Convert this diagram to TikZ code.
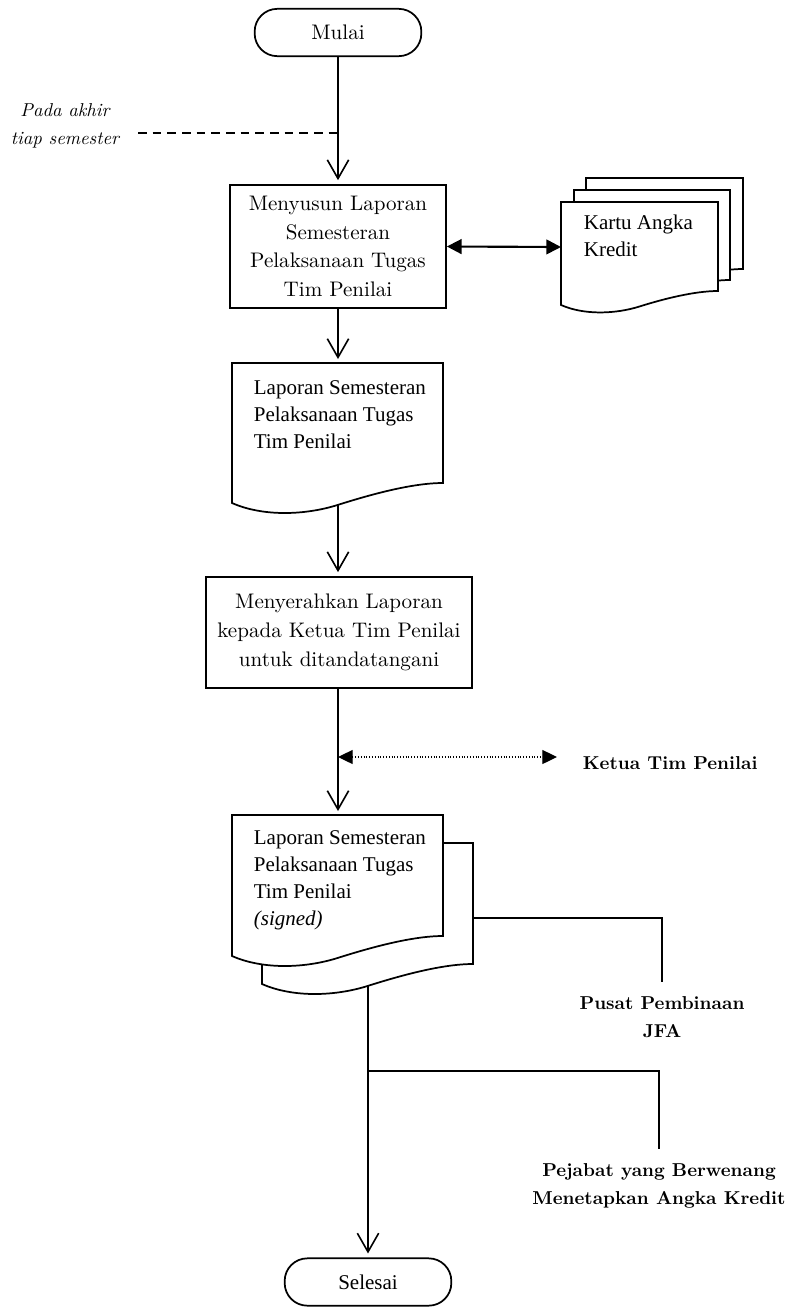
\documentclass[tikz,border=0pt]{standalone}
\usepackage{fontspec}
\newfontfamily\tms{Liberation Serif}
\newfontfamily\lmten{lmroman10-regular.otf}[BoldFont=lmroman10-bold.otf,ItalicFont=lmroman10-italic.otf]
\usetikzlibrary{arrows.meta}
\newcommand\fpal{\lmten\fontsize{15.8}{21.5}\selectfont}
\newcommand\ftms{\tms\fontsize{15.75}{20.2}\selectfont}
\newcommand\fbld{\lmten\bfseries\fontsize{14}{21}\selectfont}
\newcommand\fita{\lmten\itshape\fontsize{14}{21}\selectfont}
% document shape: L, T, R, yL (left bottom), yR (right bottom)
\newcommand{\docshape}[5]{%
  \pgfmathsetmacro\dW{#3-#1}%
  \pgfmathsetmacro\dA{\dW/211}%
  \filldraw[docline]
   (#1,#2) -- (#3,#2) -- (#3,#5)
   .. controls ({#1+0.85*\dW},#5) and ({#1+0.65*\dW},{#4-8*\dA}) .. ({#1+0.5*\dW},{#4+2*\dA})
   .. controls ({#1+0.35*\dW},{#4+12*\dA}) and ({#1+0.15*\dW},{#4+14*\dA}) .. (#1,#4) -- cycle;
}
\begin{document}
\begin{tikzpicture}[x=0.75pt,y=-0.75pt,line width=1.3pt,
  docline/.style={fill=white,draw=black,line width=1.3pt,line join=miter},
  procbox/.style={draw,line width=1.3pt,inner sep=0pt,align=center,font=\fpal},
  termbox/.style={draw,line width=1.3pt,rounded corners=17pt,inner sep=0pt,minimum width=125pt,minimum height=35.5pt},
  txt/.style={inner sep=0pt,align=left,font=\ftms},
  lbl/.style={inner sep=0pt,align=center,font=\fbld},
  flow/.style={-{Straight Barb[length=14pt,width=16pt,line width=1.2pt]},line width=1.4pt,shorten >=3pt},
  dbl/.style={{Triangle[length=11pt,width=11pt]}-{Triangle[length=11pt,width=11pt]},line width=1.6pt},
  dotarrow/.style={{Triangle[length=11pt,width=10.5pt]}-{Triangle[length=11pt,width=10.5pt]},line width=0.9pt,dash pattern=on 0.8pt off 1.3pt},
  plain/.style={line width=1.3pt},
  dashline/.style={line width=1.1pt,dash pattern=on 6.5pt off 4.5pt}]
\useasboundingbox (0,0) rectangle (793,1307);

% ---- Kartu Angka Kredit (multi document)
\docshape{586}{178}{743}{283}{269}
\docshape{574}{190}{730}{294}{280}
\docshape{561}{202}{718}{305}{291}
\node[txt,anchor=west] (kartu) at (583,236) {Kartu Angka\\Kredit};
\coordinate (kartuW) at (561,247);

% ---- document 2
\docshape{232}{363}{443}{503}{483}
\node[txt,anchor=west] (doc2) at (253,415) {Laporan Semesteran\\Pelaksanaan Tugas\\Tim Penilai};
\coordinate (d2n) at (338,363);
\coordinate (d2s) at (338,505);

% ---- document 3 (two pages)
\docshape{262}{843}{473}{984}{964}
\docshape{232}{815}{443}{956}{936}
\node[txt,anchor=west] (doc3) at (253,880) {Laporan Semesteran\\Pelaksanaan Tugas\\Tim Penilai\\{\itshape (signed)}};
\coordinate (d3n) at (338,815);
\coordinate (d3s) at (368,986);
\coordinate (d3e) at (473,918);

% ---- process and terminal nodes
\node[termbox,font=\fpal] (mulai) at (338,32.5) {Mulai};
\node[procbox,minimum width=162pt,minimum height=92.25pt] (box1) at (338,246.5)
  {Menyusun Laporan\\Semesteran\\Pelaksanaan Tugas\\Tim Penilai};
\node[procbox,minimum width=199.5pt,minimum height=83.25pt] (box2) at (339,632.5)
  {Menyerahkan Laporan\\kepada Ketua Tim Penilai\\untuk ditandatangani};
\node[termbox,font=\ftms] (selesai) at (368,1282) {Selesai};

% ---- labels
\node[inner sep=0pt,align=center,font=\fita] (pada) at (65,126) {Pada akhir\\tiap semester};
\node[lbl,anchor=west] (ketua) at (582,763) {Ketua Tim Penilai};
\node[lbl] (pusat) at (662,1017) {Pusat Pembinaan\\JFA};
\node[lbl] (pejabat) at (659,1186) {Pejabat yang Berwenang\\Menetapkan Angka Kredit};

\coordinate (dashL) at (138,133);
\coordinate (dashR) at (340,133);
\coordinate (kt) at (338,757);
\coordinate (ktR) at (557,757);
\coordinate (br) at (368,1071);
\coordinate (pusatTop) at (662,982);
\coordinate (pejTop) at (659,1149);

% ---- connectors
\draw[flow] (mulai.south) -- (mulai.south |- box1.north);
\draw[dashline] (dashL) -- (dashR);
\draw[dbl] (box1.east) -- (kartuW);
\draw[flow] (box1.south) -- (d2n);
\draw[flow] (d2s) -- (box2.north -| d2s);
\draw[flow] (box2.south -| d3n) -- (d3n);
\draw[dotarrow] (kt) -- (ktR);
\draw[plain] (d3e) -| (pusatTop);
\draw[flow] (d3s) -- (selesai.north);
\draw[plain] (br) -| (pejTop);
\end{tikzpicture}
\end{document}
